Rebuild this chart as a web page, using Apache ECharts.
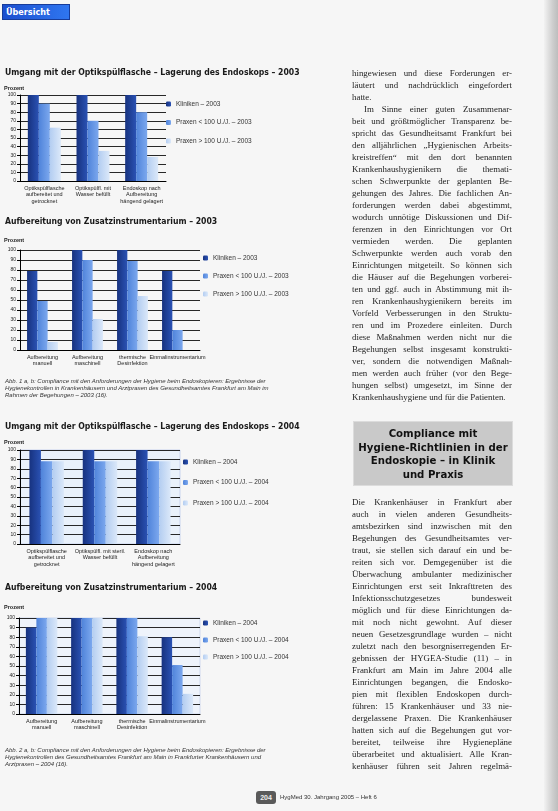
<!DOCTYPE html>
<html><head><meta charset="utf-8">
<script src="https://cdn.jsdelivr.net/npm/echarts@6/dist/echarts.min.js"></script>
<style>
html,body{margin:0;padding:0;background:#f6f6f6;width:558px;height:811px;overflow:hidden;position:relative;font-family:"Liberation Sans",Arial,sans-serif;}
#chart{position:absolute;left:0;top:0;width:558px;height:811px;}
.hdr{position:absolute;left:2px;top:4px;width:68px;height:16px;background:linear-gradient(90deg,#1b4fcf,#2f76f0);border:1px solid #173c9a;color:#fff;font:bold 9px "DejaVu Sans Condensed","Liberation Sans",sans-serif;line-height:15px;padding-left:3px;box-sizing:border-box;}
.edge{position:absolute;left:544px;top:0;width:14px;height:811px;background:linear-gradient(90deg,#f2f2f2,#cfcfcf 60%,#bdbdbd);}
.col{position:absolute;left:352px;width:160px;font-family:"Liberation Serif","DejaVu Serif",serif;font-size:8.9px;line-height:12px;color:#1e1e1e;}
.ln{white-space:nowrap;height:12px;}
.box{position:absolute;left:353px;top:421px;width:160px;height:65px;background:#c9c9c9;border:1px solid #dcdcdc;box-sizing:border-box;text-align:center;font:bold 11.3px "DejaVu Sans Condensed","Liberation Sans",sans-serif;line-height:13.6px;color:#111;padding-top:5px;}
.cap{position:absolute;left:5px;width:310px;font:italic 6px "Liberation Sans",sans-serif;line-height:7px;color:#333;}
.pg{position:absolute;left:256px;top:791px;width:20px;height:13px;background:#5a5a5a;border-radius:3px;color:#eee;font:bold 7px "Liberation Sans",sans-serif;line-height:13px;text-align:center;}
.pgt{position:absolute;left:280px;top:794px;font:6px "Liberation Sans",sans-serif;color:#333;}
</style></head>
<body>
<div id="chart"></div>
<div class="hdr">Übersicht</div>
<div class="edge"></div>
<div class="col" id="col1" style="top:67px"></div>
<div class="box">Compliance mit<br>Hygiene-Richtlinien in der<br>Endoskopie – in Klinik<br>und Praxis</div>
<div class="col" id="col2" style="top:496px"></div>
<div class="cap" style="top:378px">Abb. 1 a, b: Compliance mit den Anforderungen der Hygiene beim Endoskopieren: Ergebnisse der<br>Hygienekontrollen in Krankenhäusern und Arztpraxen des Gesundheitsamtes Frankfurt am Main im<br>Rahmen der Begehungen – 2003 (16).</div>
<div class="cap" style="top:747px">Abb. 2 a, b: Compliance mit den Anforderungen der Hygiene beim Endoskopieren: Ergebnisse der<br>Hygienekontrollen des Gesundheitsamtes Frankfurt am Main in Frankfurter Krankenhäusern und<br>Arztpraxen – 2004 (16).</div>
<div class="pg">204</div>
<div class="pgt">HygMed 30. Jahrgang 2005 – Heft 6</div>
<script>
// ---- data ----
const titles = [
  "Umgang mit der Optikspülflasche – Lagerung des Endoskops – 2003",
  "Aufbereitung von Zusatzinstrumentarium – 2003",
  "Umgang mit der Optikspülflasche – Lagerung des Endoskops – 2004",
  "Aufbereitung von Zusatzinstrumentarium – 2004"
];
const names2003 = ["Kliniken – 2003", "Praxen < 100 U./J. – 2003", "Praxen > 100 U./J. – 2003"];
const names2004 = ["Kliniken – 2004", "Praxen < 100 U./J. – 2004", "Praxen > 100 U./J. – 2004"];
const catsOptik = ["Optikspülflasche\naufbereitet und\ngetrocknet", "Optikspülfl. mit\nWasser befüllt", "Endoskop nach\nAufbereitung\nhängend gelagert"];
const catsOptik04 = ["Optikspülflasche\naufbereitet und\ngetrocknet", "Optikspülfl. mit steril.\nWasser befüllt", "Endoskop nach\nAufbereitung\nhängend gelagert"];
const catsZusatz = ["Aufbereitung\nmanuell", "Aufbereitung\nmaschinell", "thermische\nDesinfektion", "Einmalinstrumentarium"];
const yTicks = [0, 10, 20, 30, 40, 50, 60, 70, 80, 90, 100];
// chart 1 (2003 Optik)
const c1Kliniken = [100, 100, 100];
const c1PraxenA  = [90, 70, 80];
const c1PraxenB  = [62, 35, 28];
// chart 2 (2003 Zusatz)
const c2Kliniken = [79, 100, 100, 79];
const c2PraxenA  = [49, 90, 89, 20];
const c2PraxenB  = [8, 31, 54, 0];
// chart 3 (2004 Optik)
const c3Kliniken = [100, 100, 100];
const c3PraxenA  = [88, 88, 88];
const c3PraxenB  = [88, 88, 88];
// chart 4 (2004 Zusatz)
const c4Kliniken = [90, 100, 100, 80];
const c4PraxenA  = [100, 100, 100, 51];
const c4PraxenB  = [100, 100, 81, 21];

// ---- text ----
const col1 = [
 ["hingewiesen und diese Forderungen er-",0],
 ["läutert und nachdrücklich eingefordert",0],
 ["hatte.",2],
 ["Im Sinne einer guten Zusammenar-",1],
 ["beit und größtmöglicher Transparenz be-",0],
 ["spricht das Gesundheitsamt Frankfurt bei",0],
 ["den alljährlichen „Hygienischen Arbeits-",0],
 ["kreistreffen“ mit den dort benannten",0],
 ["Krankenhaushygienikern die themati-",0],
 ["schen Schwerpunkte der geplanten Be-",0],
 ["gehungen des Jahres. Die fachlichen An-",0],
 ["forderungen werden dabei abgestimmt,",0],
 ["wodurch unnötige Diskussionen und Dif-",0],
 ["ferenzen in den Einrichtungen vor Ort",0],
 ["vermieden werden. Die geplanten",0],
 ["Schwerpunkte werden auch vorab den",0],
 ["Einrichtungen mitgeteilt. So können sich",0],
 ["die Häuser auf die Begehungen vorberei-",0],
 ["ten und ggf. auch in Abstimmung mit ih-",0],
 ["ren Krankenhaushygienikern bereits im",0],
 ["Vorfeld Verbesserungen in den Struktu-",0],
 ["ren und im Prozedere einleiten. Durch",0],
 ["diese Maßnahmen werden nicht nur die",0],
 ["Begehungen selbst insgesamt konstrukti-",0],
 ["ver, sondern die notwendigen Maßnah-",0],
 ["men werden auch früher (vor den Bege-",0],
 ["hungen selbst) umgesetzt, im Sinne der",0],
 ["Krankenhaushygiene und für die Patienten.",2]
];
const col2 = [
 ["Die Krankenhäuser in Frankfurt aber",0],
 ["auch in vielen anderen Gesundheits-",0],
 ["amtsbezirken sind inzwischen mit den",0],
 ["Begehungen des Gesundheitsamtes ver-",0],
 ["traut, sie stellen sich darauf ein und be-",0],
 ["reiten sich vor. Demgegenüber ist die",0],
 ["Überwachung ambulanter medizinischer",0],
 ["Einrichtungen erst seit Inkrafttreten des",0],
 ["Infektionsschutzgesetzes bundesweit",0],
 ["möglich und für diese Einrichtungen da-",0],
 ["mit noch nicht gewohnt. Auf dieser",0],
 ["neuen Gesetzesgrundlage wurden – nicht",0],
 ["zuletzt nach den besorgniserregenden Er-",0],
 ["gebnissen der HYGEA-Studie (11) – in",0],
 ["Frankfurt am Main im Jahre 2004 alle",0],
 ["Einrichtungen begangen, die Endosko-",0],
 ["pien mit flexiblen Endoskopen durch-",0],
 ["führen: 15 Krankenhäuser und 33 nie-",0],
 ["dergelassene Praxen. Die Krankenhäuser",0],
 ["hatten sich auf die Begehungen gut vor-",0],
 ["bereitet, teilweise ihre Hygienepläne",0],
 ["überarbeitet und aktualisiert. Alle Kran-",0],
 ["kenhäuser führen seit Jahren regelmä-",0]
];
function fillCol(id, lines){
  const el = document.getElementById(id);
  lines.forEach(([t,k])=>{
    const d = document.createElement('div');
    d.className='ln';
    const s = document.createElement('span');
    s.textContent = t;
    d.appendChild(s);
    if(k===1) d.style.paddingLeft='12px';
    el.appendChild(d);
    if(k!==2){
      const avail = 160 - (k===1?12:0);
      const w = s.getBoundingClientRect().width;
      const sp = (t.match(/ /g)||[]).length;
      if(sp>0) s.style.wordSpacing = ((avail - w)/sp) + 'px';
    }
  });
}
fillCol('col1', col1);
fillCol('col2', col2);

// ---- chart ----
const chart = echarts.init(document.getElementById('chart'), null, {renderer:'canvas'});
function grad(a,b){return {type:'linear',x:0,y:0,x2:1,y2:0,colorStops:[{offset:0,color:a},{offset:1,color:b}]};}
const colDark = grad('#17327f','#2a52b4');
const colMed  = grad('#4f83da','#7ca8ee');
const colLight= grad('#b3cdf1','#dbe8f9');
const colors = [colDark, colMed, colLight];
const titleFont = {fontSize:8.6,fontWeight:'bold',fontFamily:'"DejaVu Sans Condensed","Liberation Sans",sans-serif',color:'#1a1a1a'};
const pFont = {fontSize:5.5,fontWeight:'bold',fontFamily:'"Liberation Sans",sans-serif',color:'#222'};
const grids = [
  {left:20, top:95, width:146, height:86},
  {left:20, top:250, width:180, height:100},
  {left:20, top:450, width:160, height:94, show:true, backgroundColor:'#e9f1fb', borderColor:'#c8d3ee', borderWidth:1},
  {left:19, top:618, width:181, height:96, show:true, backgroundColor:'#eef3fb', borderColor:'#cfd8ee', borderWidth:1}
];
const catsList = [catsOptik, catsZusatz, catsOptik04, catsZusatz];
const dataList = [
  [c1Kliniken,c1PraxenA,c1PraxenB],
  [c2Kliniken,c2PraxenA,c2PraxenB],
  [c3Kliniken,c3PraxenA,c3PraxenB],
  [c4Kliniken,c4PraxenA,c4PraxenB]
];
const nameList = [names2003, names2003, names2004, names2004];
const barW = [11, 10.3, 11.5, 10.5];
const titleTops = [68, 217, 422, 583];
const pTops = [85, 237, 439, 604];
const legendPos = [
  {left:166, top:100, itemGap:10.5},
  {left:203, top:254, itemGap:10},
  {left:183, top:458, itemGap:12.5},
  {left:203, top:619, itemGap:9}
];
const option = {
  animation:false,
  title: [],
  grid: grids,
  xAxis: [], yAxis: [], legend: [], series: []
};
for(let i=0;i<4;i++){
  option.title.push({text:titles[i], left:5, top:titleTops[i], padding:0, textStyle:titleFont});
  option.title.push({text:'Prozent', left:4, top:pTops[i], padding:0, textStyle:pFont});
  option.xAxis.push({type:'category', gridIndex:i, data:catsList[i],
    axisLine:{lineStyle:{color:'#000',width:1}}, axisTick:{show:false},
    axisLabel:{interval:0, fontSize:5.5, lineHeight:6.5, color:'#222', margin:4, fontFamily:'"Liberation Sans",sans-serif'}});
  option.yAxis.push({type:'value', gridIndex:i, min:yTicks[0], max:yTicks[yTicks.length-1], interval:10,
    axisLine:{show:true, lineStyle:{color:'#000',width:1}},
    axisTick:{show:true, length:3, lineStyle:{color:'#000'}},
    axisLabel:{fontSize:5, color:'#222', margin:4, fontFamily:'"Liberation Sans",sans-serif'},
    splitLine:{show:true, lineStyle:{color:'#111', width:0.9}}});
  option.legend.push(Object.assign({orient:'vertical', data:nameList[i], itemWidth:5, itemHeight:5, padding:0,
    selectedMode:false, textStyle:{fontSize:6.5, color:'#333', lineHeight:8, fontFamily:'"Liberation Sans",sans-serif'}}, legendPos[i]));
  for(let s=0;s<3;s++){
    option.series.push({type:'bar', name:nameList[i][s], xAxisIndex:i, yAxisIndex:i, data:dataList[i][s],
      barWidth:barW[i], barGap:'0%', itemStyle:{color:colors[s]}});
  }
}
chart.setOption(option);
</script>
</body></html>
